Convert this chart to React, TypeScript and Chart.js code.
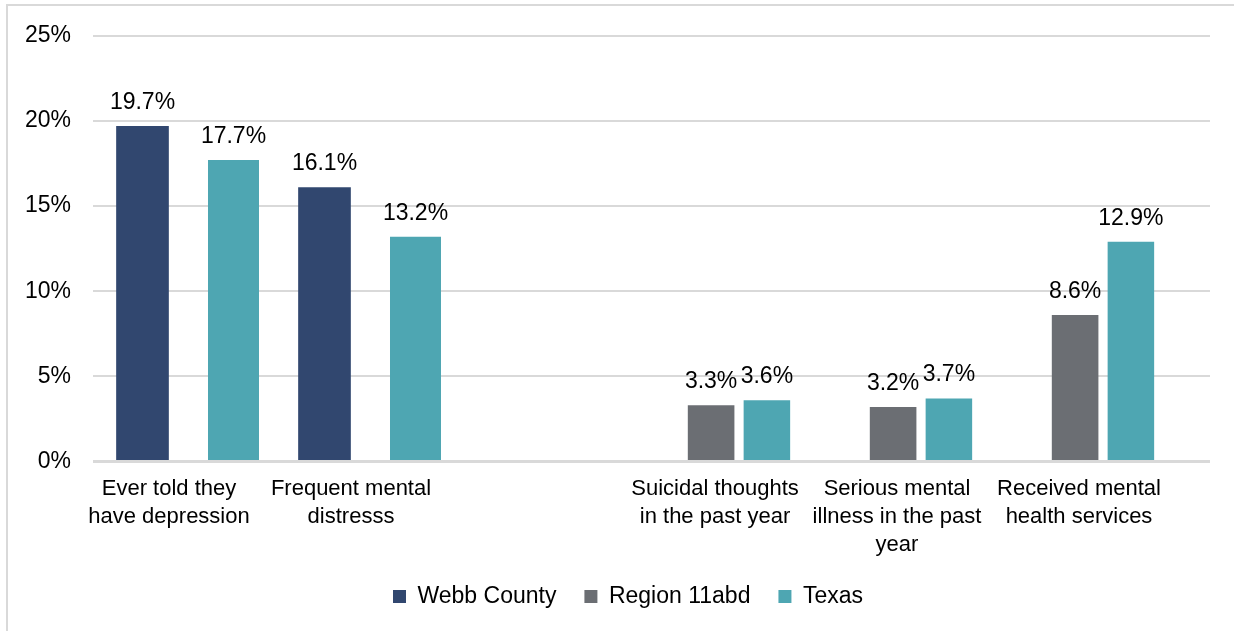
import React, { useEffect, useRef } from "react";
import { Chart, registerables } from "chart.js";

Chart.register(...registerables);

// ---- data ----
const categories: string[][] = [
  ["Ever told they", "have depression"],
  ["Frequent mental", "distresss"],
  [""],
  ["Suicidal thoughts", "in the past year"],
  ["Serious mental", "illness in the past", "year"],
  ["Received mental", "health services"],
];
const seriesNames = ["Webb County", "Region 11abd", "Texas"];
const webbCounty: (number | null)[] = [19.7, 16.1, null, null, null, null];
const region11abd: (number | null)[] = [null, null, null, 3.3, 3.2, 8.6];
const texas: (number | null)[] = [17.7, 13.2, null, 3.6, 3.7, 12.9];
const yMin = 0;
const yMax = 25;
const yStep = 5;

// ---- styles ----
const FONT = '"Liberation Sans", Arial, Helvetica, sans-serif';
const NAVY = "#31476F";
const GRAY = "#6B6E73";
const TEAL = "#4EA6B2";
const GRID = "#D9D9D9";

// Texas is drawn as two datasets so each group can use its own spacing
const texasBesideWebb = texas.map((v, i) => (webbCounty[i] != null ? v : null));
const texasBesideRegion = texas.map((v, i) => (region11abd[i] != null ? v : null));

const compressX = {
  id: "compressX",
  afterLayout(chart: any) {
    const s = chart.scales.x;
    const a = chart.chartArea;
    s._startPixel = a.left + 7;
    s._endPixel = a.right - 18;
    s._length = s._endPixel - s._startPixel;
  },
};

const valueLabels = {
  id: "valueLabels",
  afterDatasetsDraw(chart: any) {
    const ctx = chart.ctx;
    ctx.save();
    ctx.font = `23px ${FONT}`;
    ctx.fillStyle = "#000";
    ctx.textAlign = "center";
    ctx.textBaseline = "alphabetic";
    chart.data.datasets.forEach((ds: any, di: number) => {
      const meta = chart.getDatasetMeta(di);
      meta.data.forEach((el: any, i: number) => {
        const v = ds.data[i];
        if (v == null) return;
        ctx.fillText(`${v.toFixed(1)}%`, el.x, el.y - 17);
      });
    });
    ctx.restore();
  },
};

export default function App() {
  const ref = useRef<HTMLCanvasElement>(null);

  useEffect(() => {
    const chart = new Chart(ref.current as HTMLCanvasElement, {
      type: "bar",
      data: {
        labels: categories,
        datasets: [
          {
            label: seriesNames[0],
            data: webbCounty,
            backgroundColor: NAVY,
            borderWidth: 0,
            skipNull: true,
            categoryPercentage: 1.066,
            barPercentage: 0.543,
          },
          {
            label: seriesNames[1],
            data: region11abd,
            backgroundColor: GRAY,
            borderWidth: 0,
            skipNull: true,
            categoryPercentage: 0.569,
            barPercentage: 0.9,
          },
          {
            label: seriesNames[2],
            data: texasBesideWebb,
            backgroundColor: TEAL,
            borderWidth: 0,
            skipNull: true,
            categoryPercentage: 0.934,
            barPercentage: 0.6,
          },
          {
            label: seriesNames[2],
            data: texasBesideRegion,
            backgroundColor: TEAL,
            borderWidth: 0,
            skipNull: true,
            categoryPercentage: 0.657,
            barPercentage: 0.778,
          },
        ] as any,
      },
      options: {
        animation: false,
        responsive: true,
        maintainAspectRatio: false,
        devicePixelRatio: 1,
        layout: { padding: { top: 34, left: 22, right: 0, bottom: 13 } },
        plugins: {
          tooltip: { enabled: false },
          title: { display: false },
          legend: {
            position: "bottom",
            labels: {
              font: { size: 23, family: FONT },
              color: "#000",
              boxWidth: 13,
              boxHeight: 13,
              padding: 28,
              filter: (item: any) => item.datasetIndex !== 3,
            },
          },
        },
        scales: {
          x: {
            afterFit: (s: any) => {
              s.height = 95.5;
            },
            grid: { display: false, drawTicks: false },
            border: { display: false },
            ticks: {
              font: { size: 22, family: FONT, lineHeight: 1.273 },
              color: "#000",
              padding: 13.5,
              labelOffset: -22,
              autoSkip: false,
              maxRotation: 0,
              minRotation: 0,
            },
          },
          y: {
            min: yMin,
            max: yMax,
            afterFit: (s: any) => {
              s.width = 71;
            },
            ticks: {
              stepSize: yStep,
              font: { size: 23, family: FONT },
              color: "#000",
              padding: 22,
              callback: (v: any) => `${v}%`,
            },
            grid: {
              color: GRID,
              lineWidth: (c: any) => (c.tick && c.tick.value === 0 ? 3 : 2),
              drawTicks: false,
            },
            border: { display: false },
          },
          yRight: {
            position: "right",
            display: true,
            afterFit: (s: any) => {
              s.width = 24;
            },
            grid: { display: false, drawTicks: false },
            border: { display: false },
            ticks: { display: false },
          },
        },
      } as any,
      plugins: [compressX, valueLabels],
    });
    return () => chart.destroy();
  }, []);

  return (
    <div style={{ position: "absolute", left: 0, top: 0, width: 1234, height: 631, background: "#fff" }}>
      <div
        style={{
          position: "absolute",
          left: 6,
          top: 4,
          width: 1228,
          height: 627,
          boxSizing: "border-box",
          borderLeft: `2px solid ${GRID}`,
          borderTop: `2px solid ${GRID}`,
        }}
      />
      <div style={{ position: "absolute", left: 0, top: 0, width: 1234, height: 631 }}>
        <canvas ref={ref} />
      </div>
    </div>
  );
}
